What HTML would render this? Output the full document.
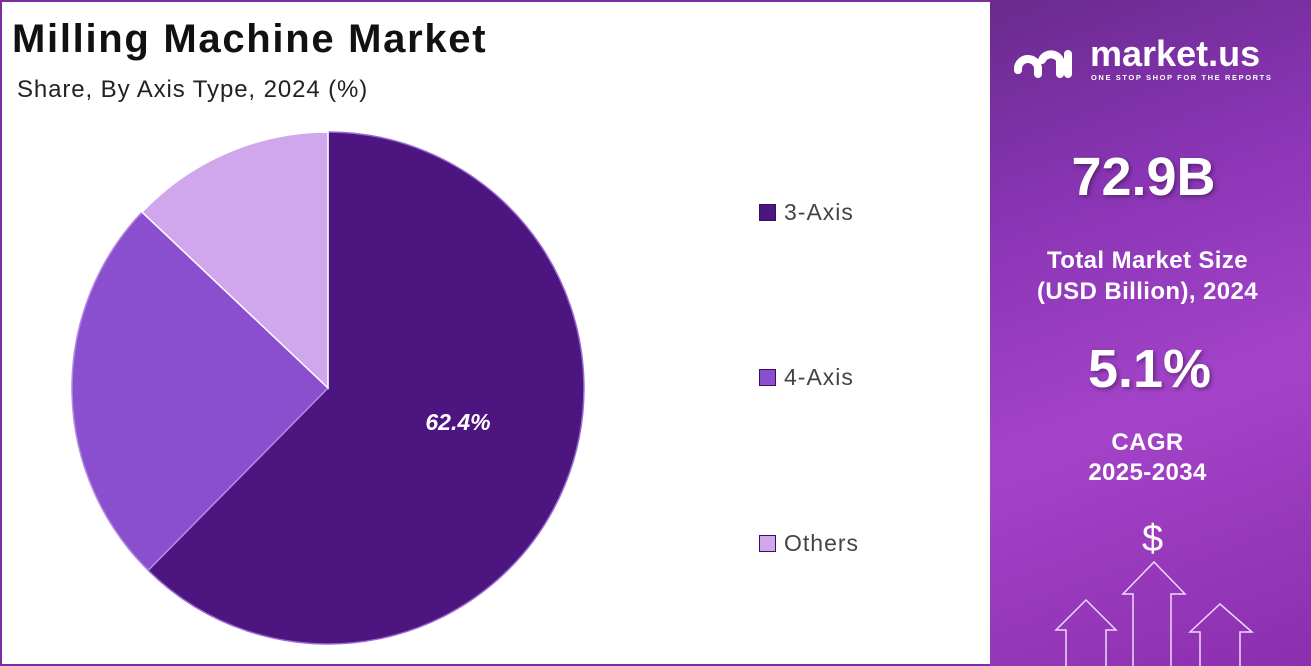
<!DOCTYPE html>
<html><head><meta charset="utf-8"><style>
body{margin:0;width:1311px;height:666px;overflow:hidden;font-family:"Liberation Sans",sans-serif;}
.wrap{position:absolute;left:0;top:0;width:1307px;height:662px;border:2px solid #7a2fa0;background:#fff;}
.right{position:absolute;left:990px;top:0;width:321px;height:666px;background:linear-gradient(160deg,#6a2a8e 0%,#8a35b5 30%,#a443c9 60%,#8b2fae 100%);color:#fff;text-align:center;}
.t{position:absolute;left:12px;top:17px;font-size:40px;font-weight:bold;letter-spacing:1.7px;color:#111;}
.s{position:absolute;left:17px;top:76px;font-size:24px;letter-spacing:0.9px;color:#222;}
.lg{position:absolute;left:759px;font-size:23px;letter-spacing:1px;color:#444;}
.lg i{display:inline-block;width:15px;height:15px;border:1.5px solid #3a1060;margin-right:8px;vertical-align:-1px;}
.big{position:absolute;left:0;width:321px;font-weight:bold;text-shadow:2px 2px 4px rgba(0,0,0,.35);}
</style></head><body>
<div class="wrap"></div>
<div class="t">Milling Machine Market</div>
<div class="s">Share, By Axis Type, 2024 (%)</div>
<svg style="position:absolute;left:0;top:0" width="990" height="666">
<path d="M328,388 L328,132 A256,256 0 1 1 148.2,570.3 Z" fill="#4c1580" stroke="#9a6ad0" stroke-width="1.5"/>
<path d="M328,388 L148.2,570.3 A256,256 0 0 1 142,212.1 Z" fill="#8a4fcf" stroke="#b58ae0" stroke-width="1.5"/>
<path d="M328,388 L142,212.1 A256,256 0 0 1 328,132 Z" fill="#d0a6ec" stroke="#fff" stroke-width="1.5"/>
<text x="458" y="430" fill="#fff" font-size="23" font-weight="bold" font-style="italic" text-anchor="middle" font-family="Liberation Sans">62.4%</text>
</svg>
<div class="lg" style="top:199px"><i style="background:#4c1580"></i>3-Axis</div>
<div class="lg" style="top:364px"><i style="background:#8a4fcf"></i>4-Axis</div>
<div class="lg" style="top:530px"><i style="background:#d0a6ec"></i>Others</div>
<div class="right">
<div style="position:absolute;left:22px;top:40px;width:65px;height:36px;">
<svg width="65" height="40"><path d="M6,30 A10,10 0 0 1 26,28 L26,34 M30,20 A10,10 0 0 1 48,20 L48,34 M56,14 L56,34" stroke="#fff" stroke-width="8" fill="none" stroke-linecap="round"/><circle cx="6" cy="30" r="4" fill="#fff"/></svg></div>
<div style="position:absolute;left:100px;top:33px;font-size:36px;font-weight:bold;">market.us</div>
<div style="position:absolute;left:101px;top:73px;font-size:7.5px;font-weight:bold;letter-spacing:1.6px;">ONE STOP SHOP FOR THE REPORTS</div>
<div class="big" style="top:146px;font-size:54px;left:-7px">72.9B</div>
<div class="big" style="top:245px;font-size:24px;line-height:31px;left:-3px;letter-spacing:0.4px;text-shadow:none">Total Market Size<br>(USD Billion), 2024</div>
<div class="big" style="top:338px;font-size:54px;left:-1px">5.1%</div>
<div class="big" style="top:428px;font-size:24px;line-height:30px;left:-3px;letter-spacing:0.4px;text-shadow:none">CAGR<br>2025-2034</div>
<div style="position:absolute;left:152px;top:518px;font-size:38px;">$</div>
<svg style="position:absolute;left:0;top:0" width="321" height="666" fill="none" stroke="#f0d8ff" stroke-width="1.5">
<path d="M76,666 L76,630 L66,630 L96,600 L126,630 L116,630 L116,666"/>
<path d="M143,666 L143,594 L133,594 L164,562 L195,594 L181,594 L181,666"/>
<path d="M210,666 L210,632 L200,632 L230,604 L262,632 L250,632 L250,666"/>
</svg>
</div>
</body></html>
